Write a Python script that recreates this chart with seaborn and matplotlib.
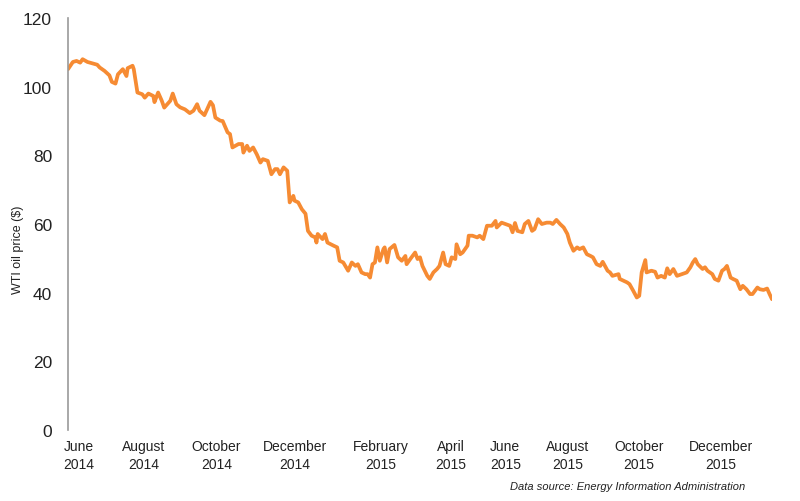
import pandas as pd
import seaborn as sns
import matplotlib.pyplot as plt

# days since start of June 2014
days = [0, 4, 7, 10, 12, 16, 20, 24, 26, 30, 34, 36, 39, 41, 45, 48, 49, 53, 54, 57,
        61, 63, 66, 70, 71, 74, 77, 79, 84, 86, 89, 92, 96, 100, 103, 106, 108, 112, 117, 119,
        121, 125, 127, 131, 133, 135, 140, 143, 144, 147, 149, 152, 155, 158, 160, 164, 167, 170, 172, 174,
        177, 180, 182, 185, 186, 189, 192, 195, 197, 200, 203, 204, 205, 209, 211, 213, 218, 221, 223, 226,
        230, 233, 236, 238, 241, 244, 246, 248, 250, 252, 254, 256, 259, 260, 262, 264, 268, 271, 274, 277,
        278, 281, 285, 287, 289, 291, 295, 297, 300, 303, 305, 308, 310, 313, 315, 318, 319, 322, 324, 328,
        329, 332, 336, 338, 341, 344, 348, 351, 352, 356, 359, 363, 365, 367, 369, 373, 375, 378, 381, 383,
        386, 389, 393, 396, 398, 401, 404, 407, 410, 412, 415, 418, 420, 423, 426, 429, 431, 434, 437, 439,
        443, 445, 447, 452, 453, 456, 459, 461, 464, 467, 469, 471, 474, 475, 479, 482, 484, 487, 490, 492,
        494, 497, 500, 504, 508, 511, 513, 515, 517, 521, 523, 525, 529, 531, 534, 537, 539, 541, 544, 546,
        549, 552, 554, 557, 560, 562, 566, 568, 571, 574, 576, 578]

price = [105.1, 107.2, 107.5, 107.0, 108.0, 107.2, 106.8, 106.4, 105.6, 104.6, 103.3, 101.4, 100.9, 103.6, 105.1, 103.1, 105.4, 106.1, 105.1, 98.3,
         97.8, 96.8, 98.0, 97.3, 95.5, 98.3, 95.9, 93.9, 95.9, 98.0, 94.9, 94.0, 93.4, 92.3, 93.0, 94.9, 93.0, 91.7, 95.6, 94.6,
         91.0, 90.1, 90.0, 86.7, 86.2, 82.3, 83.3, 83.3, 80.8, 82.8, 81.3, 82.3, 80.3, 77.9, 78.9, 78.4, 74.5, 76.0, 76.0, 74.5,
         76.5, 75.5, 66.3, 68.2, 66.8, 66.3, 64.3, 63.0, 58.0, 56.6, 56.1, 54.6, 57.1, 55.6, 57.1, 54.6, 53.7, 53.2, 49.3, 48.8,
         46.4, 48.8, 47.8, 48.3, 45.9, 45.4, 45.4, 44.4, 48.3, 48.8, 53.2, 49.3, 52.7, 53.2, 48.8, 52.7, 53.9, 50.3, 49.3, 50.7,
         48.3, 49.8, 51.7, 49.8, 50.3, 47.8, 44.9, 44.0, 45.9, 46.9, 47.8, 51.7, 48.3, 47.8, 50.3, 49.8, 54.1, 51.2, 51.7, 53.7,
         56.6, 56.6, 56.1, 56.6, 55.6, 59.5, 59.5, 60.9, 59.0, 60.4, 60.0, 59.5, 57.6, 60.3, 58.0, 57.6, 60.0, 60.9, 58.0, 58.5,
         61.4, 60.0, 60.4, 60.4, 60.0, 61.2, 60.0, 59.0, 57.1, 54.6, 52.2, 53.2, 52.7, 53.2, 51.2, 50.7, 50.3, 48.3, 47.8, 49.0,
         46.4, 45.9, 44.9, 45.4, 44.0, 43.5, 43.0, 42.5, 40.6, 38.6, 39.1, 45.9, 49.5, 45.9, 46.4, 46.1, 44.4, 44.9, 44.4, 47.1,
         45.4, 46.9, 44.9, 45.4, 45.9, 47.4, 48.8, 49.8, 48.3, 46.9, 47.4, 46.4, 45.4, 44.0, 43.5, 46.4, 46.9, 47.8, 44.4, 44.0,
         43.5, 41.0, 42.0, 41.0, 39.6, 39.6, 41.5, 41.0, 40.8, 41.2, 39.6, 38.1]

tick_days = [9, 62, 122, 186, 257, 314, 359, 410, 469, 536]
tick_labels = ["June\n2014", "August\n2014", "October\n2014", "December\n2014", "February\n2015",
               "April\n2015", "June\n2015", "August\n2015", "October\n2015", "December\n2015"]

df = pd.DataFrame({"day": days, "price": price})

sns.set_style("white")
plt.rcParams["font.family"] = ["Liberation Sans", "DejaVu Sans"]

fig = plt.figure(figsize=(8, 5.02), dpi=100)
ax = fig.add_axes([0.085, 0.1414, 0.88, 0.8207])

sns.lineplot(data=df, x="day", y="price", color="#F68B33", linewidth=2.7, ax=ax)

ax.set_xlim(0, 578)
ax.set_ylim(0, 120)
ax.set_yticks(range(0, 121, 20))
ax.set_xticks(tick_days)
ax.set_xticklabels(tick_labels, linespacing=1.4)
ax.tick_params(axis="y", length=0, pad=11.5, labelsize=12.5, labelcolor="#222222")
ax.tick_params(axis="x", length=0, pad=6.5, labelsize=10, labelcolor="#222222")

for s in ["top", "right", "bottom"]:
    ax.spines[s].set_visible(False)
ax.spines["left"].set_color("#9a9a9a")
ax.spines["left"].set_linewidth(1.2)

ax.set_xlabel("")
ax.set_ylabel("WTI oil price ($)", fontsize=9, color="#222222")
ax.yaxis.set_label_coords(-0.062, 0.44)

fig.text(0.932, 0.02, "Data source: Energy Information Administration",
         ha="right", va="bottom", fontsize=8, style="italic", color="#222222")

fig.savefig("out.png", dpi=100)
